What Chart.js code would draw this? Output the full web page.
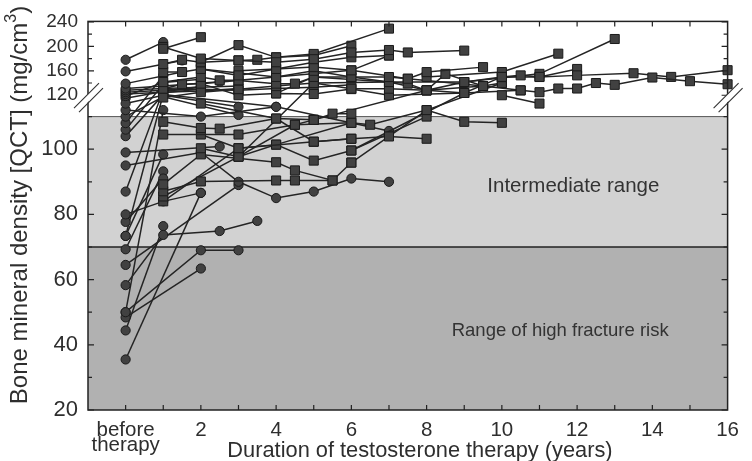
<!DOCTYPE html>
<html>
<head>
<meta charset="utf-8">
<title>Bone mineral density under testosterone therapy</title>
<script src="https://cdn.jsdelivr.net/npm/chart.js"></script>
<style>
    html, body { margin: 0; padding: 0; background: #fff; }
    #wrap { width: 752px; height: 461px; }
</style>
</head>
<body>
<div id="wrap"><canvas id="bmdChart" width="752" height="461"></canvas></div>
<script>
    // patients followed from before therapy (circles): years on therapy / BMD (mg/cm3)
    const circleYears = [
        [0, 1], [0, 1.5], [0, 1.5], [0, 1, 2.5], [0, 1, 3], [0, 1, 2], [0, 1, 2, 3], [0, 1, 2],
        [0, 1, 3], [0, 2, 4], [0, 1, 3], [0, 1], [0, 1], [0, 2.5], [0, 2, 3, 4, 5, 6, 7],
        [0, 1, 2], [0, 1, 2], [0, 1], [0, 1], [0, 1, 2.5, 3.5], [0, 3], [0, 1], [0, 2, 3],
        [0, 2], [0, 1], [0, 2], [0, 1], [0, 1], [0, 1, 4, 7], [0, 1, 2]
    ];
    const circleBmd = [
        [178, 207], [159, 177], [139, 158], [131, 135, 142], [128, 131, 135], [125, 128, 130], [122, 125, 127, 131], [119, 141, 146],
        [114, 120, 113], [112, 110, 113], [110, 118, 110.5], [108, 152], [106, 138], [99, 100.8], [95, 99, 90, 85, 87, 91, 90],
        [87, 128, 134], [80, 84, 86.6], [77.7, 91], [73.4, 98.4], [58.3, 73.7, 74.9, 78], [64.5, 89], [69.3, 93.2], [50, 69, 69],
        [48.4, 63.4], [44.4, 76.4], [35.5, 86.6], [50, 112], [73.4, 122], [104, 121, 113, 105.6], [116, 126, 133]
    ];

    // patients first measured while on therapy (squares)
    const squareYears = [
        [1, 2], [1, 2, 3, 4, 5, 6, 7, 7.5, 9], [2, 3, 4, 5, 7], [1, 1.5, 2, 3, 3.5, 4, 5, 6],
        [1, 1.5, 2, 3, 4, 5, 6, 7], [1, 2, 2.5, 3, 4, 5, 6, 7, 7.5, 8, 9.5],
        [1, 1.5, 2, 3, 4, 4.5, 5, 6, 7, 7.5, 8, 9, 10],
        [1, 2, 3, 4, 5, 6, 7, 8, 8.5, 9.5, 10.5, 11, 11.5, 12, 12.5, 13, 14, 15, 16],
        [2, 3, 4, 5, 6, 7, 9, 10, 10.5, 11, 12, 13.5, 14.5, 16],
        [8, 10, 11.5], [9, 11, 13], [10, 11, 12], [10, 11],
        [1, 2, 2.5, 4, 5, 5.5, 6], [1, 3, 4.5, 6, 6.5, 8, 9, 10], [2, 3, 5, 6, 7, 8], [2, 3, 4, 5, 6, 8],
        [1, 2, 4, 4.5, 5.5, 6], [1, 2, 4, 4.5, 5.5], [1, 3, 4.5, 5], [1, 3, 4, 6], [2, 4, 5, 6],
        [3, 5, 7, 9], [6, 8, 10], [5, 8, 9.5, 10], [6, 9, 10.5], [1, 2, 3, 4, 5, 6],
        [3, 4, 5, 6, 7], [4, 5, 7, 8, 9], [2, 4, 6, 7.5, 9.5]
    ];
    const squareBmd = [
        [196, 215], [199, 180, 177, 174, 179, 190, 194, 190, 193], [174, 202, 182, 187.6, 229], [171, 178, 174, 177, 178, 182, 185, 201],
        [158, 158, 163, 152.5, 163, 166, 160.7, 185], [141.6, 150, 144.4, 144.4, 150, 160, 149.8, 149.8, 147, 157.9, 166],
        [130.7, 138, 139, 144, 139, 139, 150, 149.8, 141.6, 139, 128, 141.6, 149.8],
        [117, 125, 130, 135, 140, 130.7, 130.7, 128, 155, 135, 128, 125, 131, 131, 140, 137, 149, 143, 138],
        [139, 120, 123, 122, 130, 120, 123.7, 150, 152.5, 150, 152.5, 156, 150, 161],
        [150, 158, 188], [141.6, 155, 212], [149.8, 149.8, 163], [120, 114],
        [108.4, 106.5, 106.3, 109.4, 109, 110.9, 110.9], [104.5, 104.5, 107.5, 108.1, 107.5, 112, 108.4, 108.1],
        [104.5, 100.3, 102.3, 103.2, 103.9, 103.2], [100.3, 97.7, 101.4, 96.5, 99.6, 110],
        [89.2, 98.4, 96, 93.5, 90.4, 95.9], [87.1, 90.1, 90.4, 90.4, 90.4], [85.5, 97.7, 107.5, 109], [84, 100.3, 101.4, 108.1],
        [114, 109.4, 102.3, 103.2], [97.7, 140, 141.6, 141.6], [95.9, 112, 140], [109, 128, 135, 140], [99.6, 123.7, 128],
        [124, 130, 128, 131, 133, 137], [160, 163, 174, 182, 185], [123, 150, 141.6, 128, 123.7], [163, 150, 160.7, 147, 135]
    ];

    const xTickYears = [0, 2, 4, 6, 8, 10, 12, 14, 16];
    const xTickLabels = [['before', 'therapy'], '2', '4', '6', '8', '10', '12', '14', '16'];
    const yTickValues = [20, 40, 60, 80, 100, 120, 160, 200, 240];
    const yMinorValues = [30, 50, 70, 90, 110, 140, 180, 220];
    const riskLimits = [70, 110];   // high fracture risk below 70, intermediate 70-110

    // broken axis: 20-115 on a normal scale, 120-240 squeezed in above the break
    function toAxis(v) {
        if (v <= 115.5) return v;
        if (v >= 120) return 116.55 + (v - 120) * 0.1875;
        return 115.5 + (v - 115.5) * (1.05 / 4.5);
    }

    const textColor = '#2e2e2e';
    const fontFamily = '"Liberation Sans", Arial, sans-serif';

    function makeSet(years, bmd, style, radius) {
        return {
            data: years.map((yr, i) => ({ x: yr, y: toAxis(bmd[i]) })),
            showLine: true,
            borderColor: '#242424',
            borderWidth: 1.5,
            pointStyle: style,
            pointRadius: radius,
            pointBackgroundColor: '#414141',
            pointBorderColor: '#1b1b1b',
            pointBorderWidth: 1,
            clip: false
        };
    }

    const datasets = [];
    squareYears.forEach((yrs, i) => datasets.push(makeSet(yrs, squareBmd[i], 'rect', 6.4)));
    circleYears.forEach((yrs, i) => datasets.push(makeSet(yrs, circleBmd[i], 'circle', 4.6)));

    const framePlugin = {
        id: 'frame',
        beforeDatasetsDraw(chart) {
            const { ctx, chartArea: a, scales: { x, y } } = chart;
            const yInter = y.getPixelForValue(toAxis(riskLimits[1]));
            const yRisk = y.getPixelForValue(toAxis(riskLimits[0]));
            ctx.save();
            ctx.fillStyle = '#d2d2d2';
            ctx.fillRect(a.left, yInter, a.width, yRisk - yInter);
            ctx.fillStyle = '#b1b1b1';
            ctx.fillRect(a.left, yRisk, a.width, a.bottom - yRisk);
            ctx.strokeStyle = '#555';
            ctx.lineWidth = 1;
            ctx.beginPath();
            ctx.moveTo(a.left, yInter); ctx.lineTo(a.right, yInter);
            ctx.stroke();
            ctx.strokeStyle = '#222';
            ctx.lineWidth = 1.6;
            ctx.beginPath();
            ctx.moveTo(a.left, yRisk); ctx.lineTo(a.right, yRisk);
            ctx.stroke();

            ctx.fillStyle = '#333';
            ctx.textAlign = 'center';
            ctx.textBaseline = 'middle';
            ctx.font = '20.5px ' + fontFamily;
            ctx.fillText('Intermediate range', x.getPixelForValue(11.9), y.getPixelForValue(88.6));
            ctx.font = '18.5px ' + fontFamily;
            ctx.fillText('Range of high fracture risk', x.getPixelForValue(11.55), y.getPixelForValue(44.4));
            ctx.restore();
        },
        afterDraw(chart) {
            const { ctx, chartArea: a, scales: { x, y } } = chart;
            ctx.save();
            ctx.strokeStyle = '#222';
            ctx.lineWidth = 1.5;
            ctx.strokeRect(a.left, a.top, a.width, a.height);

            // inward ticks on all four sides
            ctx.lineWidth = 1.2;
            ctx.beginPath();
            for (let yr = 0; yr < 16; yr++) {
                const px = x.getPixelForValue(yr);
                ctx.moveTo(px, a.bottom); ctx.lineTo(px, a.bottom - 5);
                ctx.moveTo(px, a.top); ctx.lineTo(px, a.top + 5);
            }
            yTickValues.concat(yMinorValues).forEach(v => {
                const py = y.getPixelForValue(toAxis(v));
                const len = yTickValues.includes(v) ? 6 : 4;
                ctx.moveTo(a.left, py); ctx.lineTo(a.left + len, py);
                ctx.moveTo(a.right, py); ctx.lineTo(a.right - len, py);
            });
            ctx.stroke();

            // axis break marks
            const yb = y.getPixelForValue(toAxis(117.6));
            [a.left, a.right].forEach(ax => {
                ctx.fillStyle = '#fff';
                ctx.beginPath();
                ctx.moveTo(ax - 13, yb + 10);
                ctx.lineTo(ax + 10, yb - 13);
                ctx.lineTo(ax + 14, yb - 9);
                ctx.lineTo(ax - 9, yb + 14);
                ctx.closePath();
                ctx.fill();
                ctx.strokeStyle = '#333';
                ctx.lineWidth = 1.1;
                ctx.beginPath();
                ctx.moveTo(ax - 14, yb + 11); ctx.lineTo(ax + 11, yb - 14);
                ctx.moveTo(ax - 9, yb + 15); ctx.lineTo(ax + 15, yb - 9);
                ctx.stroke();
            });

            // axis titles
            ctx.fillStyle = textColor;
            ctx.textBaseline = 'middle';
            ctx.font = '21.8px ' + fontFamily;
            ctx.textAlign = 'center';
            ctx.fillText('Duration of testosterone therapy (years)', 420, 451);

            const main = 'Bone mineral density [QCT] (mg/cm';
            ctx.font = '24px ' + fontFamily;
            const w1 = ctx.measureText(main).width;
            const w3 = ctx.measureText(')').width;
            ctx.font = '16px ' + fontFamily;
            const w2 = ctx.measureText('3').width;
            const total = w1 + w2 + w3;
            ctx.translate(20, 205);
            ctx.rotate(-Math.PI / 2);
            ctx.textAlign = 'left';
            ctx.font = '24px ' + fontFamily;
            ctx.fillText(main, -total / 2, 0);
            ctx.font = '16px ' + fontFamily;
            ctx.fillText('3', -total / 2 + w1, -8);
            ctx.font = '24px ' + fontFamily;
            ctx.fillText(')', -total / 2 + w1 + w2, 0);
            ctx.restore();
        }
    };

    const bmdChart = new Chart(document.getElementById('bmdChart').getContext('2d'), {
        type: 'scatter',
        data: { datasets: datasets },
        options: {
            responsive: false,
            animation: false,
            devicePixelRatio: 1,
            layout: { padding: { left: 0, right: 11, top: 19, bottom: 0 } },
            plugins: { legend: { display: false }, tooltip: { enabled: false } },
            scales: {
                x: {
                    type: 'linear',
                    min: -1,
                    max: 16,
                    grid: { display: false, drawTicks: false },
                    border: { display: false },
                    afterBuildTicks: scale => { scale.ticks = xTickYears.map(v => ({ value: v })); },
                    afterFit: scale => { scale.height = 51; },
                    ticks: {
                        autoSkip: false,
                        maxRotation: 0,
                        padding: 13,
                        color: textColor,
                        font: { family: fontFamily, size: 20.5, lineHeight: 0.74 },
                        callback: (value, index) => xTickLabels[index]
                    }
                },
                y: {
                    type: 'linear',
                    min: 20,
                    max: 139.2,
                    grid: { display: false, drawTicks: false },
                    border: { display: false },
                    afterBuildTicks: scale => { scale.ticks = yTickValues.map(v => ({ value: toAxis(v) })); },
                    afterFit: scale => { scale.width = 88; },
                    ticks: {
                        padding: 10,
                        color: textColor,
                        font: ctx => ({ family: fontFamily, size: ctx.index < 5 ? 22 : 19 }),
                        callback: (value, index) => String(yTickValues[index])
                    }
                }
            }
        },
        plugins: [framePlugin]
    });
</script>
</body>
</html>
